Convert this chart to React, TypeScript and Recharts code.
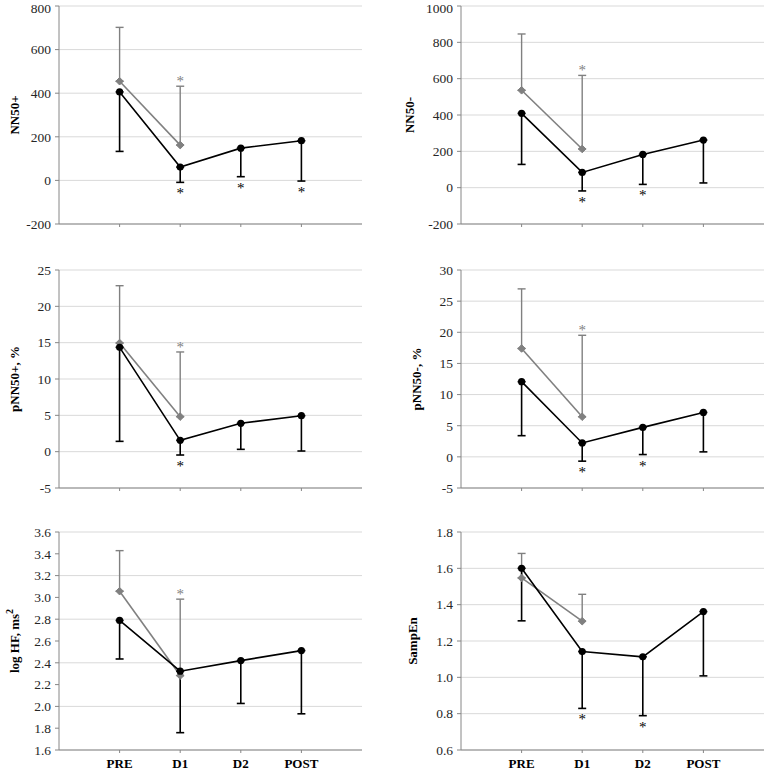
import { ComposedChart, Line, Scatter, XAxis, YAxis, CartesianGrid, ErrorBar, Label } from 'recharts';

const categories = ['PRE', 'D1', 'D2', 'POST'];

// NN50+
const nn50PlusBlack = [406, 61, 148, 182];
const nn50PlusBlackLow = [133, -9, 17, -3];
const nn50PlusGray = [455, 162];
const nn50PlusGrayHigh = [702, 432];
const nn50PlusBlackStar = [false, true, true, true];
const nn50PlusGrayStar = [false, true];
const nn50PlusTicks = [-200, 0, 200, 400, 600, 800];

// NN50-
const nn50MinusBlack = [409, 84, 183, 262];
const nn50MinusBlackLow = [128, -18, 18, 26];
const nn50MinusGray = [536, 213];
const nn50MinusGrayHigh = [846, 618];
const nn50MinusBlackStar = [false, true, true, false];
const nn50MinusGrayStar = [false, true];
const nn50MinusTicks = [-200, 0, 200, 400, 600, 800, 1000];

// pNN50+, %
const pnn50PlusBlack = [14.36, 1.56, 3.9, 4.95];
const pnn50PlusBlackLow = [1.42, -0.46, 0.32, 0.09];
const pnn50PlusGray = [14.95, 4.82];
const pnn50PlusGrayHigh = [22.84, 13.72];
const pnn50PlusBlackStar = [false, true, false, false];
const pnn50PlusGrayStar = [false, true];
const pnn50PlusTicks = [-5, 0, 5, 10, 15, 20, 25];

// pNN50-, %
const pnn50MinusBlack = [12.07, 2.23, 4.73, 7.13];
const pnn50MinusBlackLow = [3.4, -0.69, 0.37, 0.8];
const pnn50MinusGray = [17.4, 6.44];
const pnn50MinusGrayHigh = [26.97, 19.52];
const pnn50MinusBlackStar = [false, true, true, false];
const pnn50MinusGrayStar = [false, true];
const pnn50MinusTicks = [-5, 0, 5, 10, 15, 20, 25, 30];

// log HF, ms2
const logHfBlack = [2.789, 2.323, 2.42, 2.512];
const logHfBlackLow = [2.435, 1.759, 2.027, 1.932];
const logHfGray = [3.057, 2.283];
const logHfGrayHigh = [3.429, 2.984];
const logHfBlackStar = [false, false, false, false];
const logHfGrayStar = [false, true];
const logHfTicks = [1.6, 1.8, 2.0, 2.2, 2.4, 2.6, 2.8, 3.0, 3.2, 3.4, 3.6];

// SampEn
const sampEnBlack = [1.6, 1.142, 1.113, 1.362];
const sampEnBlackLow = [1.311, 0.829, 0.789, 1.008];
const sampEnGray = [1.547, 1.309];
const sampEnGrayHigh = [1.682, 1.457];
const sampEnBlackStar = [false, true, true, false];
const sampEnGrayStar = [false, false];
const sampEnTicks = [0.6, 0.8, 1.0, 1.2, 1.4, 1.6, 1.8];

const FONT = '"Liberation Serif", "Times New Roman", serif';
const AXIS = '#868686';
const GRID = '#d9d9d9';
const GRAY = '#808080';

function buildRows(black: number[], low: number[]) {
  return black.map((v, i) => ({ x: i + 1, y: v, err: [v - low[i], 0] }));
}
function buildGrayRows(gray: number[], high: number[]) {
  return gray.map((v, i) => ({ x: i + 1, y: v, err: [0, high[i] - v] }));
}
function buildStars(ends: number[], flags: boolean[]) {
  return ends.map((v, i) => ({ x: i + 1, y: v })).filter((_, i) => flags[i]);
}

const GrayDiamond = (props: any) => {
  const { cx, cy } = props;
  if (cx == null || cy == null) return null;
  const s = 3.8;
  return (
    <polygon
      points={`${cx},${cy - s} ${cx + s},${cy} ${cx},${cy + s} ${cx - s},${cy}`}
      fill={GRAY}
      stroke={GRAY}
    />
  );
};

const BlackDot = (props: any) => {
  const { cx, cy } = props;
  if (cx == null || cy == null) return null;
  return <circle cx={cx} cy={cy} r={3.6} fill="#000" />;
};

const starShape = (below: boolean, color: string) => (props: any) => {
  const { cx, cy } = props;
  return (
    <text
      x={cx}
      y={below ? cy + 16 : cy}
      textAnchor="middle"
      fontFamily={FONT}
      fontSize={15}
      fill={color}
      opacity={0.99}
      style={{ fontFamily: FONT }}
    >
      *
    </text>
  );
};

interface PanelProps {
  title: React.ReactNode;
  black: number[];
  low: number[];
  gray: number[];
  high: number[];
  blackStar: boolean[];
  grayStar: boolean[];
  ticks: number[];
  decimals: number;
  left: number;
  top: number;
  width: number;
  height: number;
  plotLeft: number;
  plotRight: number;
  plotTop: number;
  plotBottom: number;
  labelX: number;
  showX: boolean;
}

function Panel(p: PanelProps) {
  const rows = buildRows(p.black, p.low);
  const grayRows = buildGrayRows(p.gray, p.high);
  const blackStars = buildStars(p.low, p.blackStar);
  const grayStars = buildStars(p.high, p.grayStar);
  const domain: [number, number] = [p.ticks[0], p.ticks[p.ticks.length - 1]];
  return (
    <div style={{ position: 'absolute', left: p.left, top: p.top, fontFamily: FONT }}>
      <ComposedChart
        width={p.width}
        height={p.height}
        data={rows}
        style={{ fontFamily: FONT }}
        margin={{ top: p.plotTop - p.top, right: p.left + p.width - p.plotRight, left: 0, bottom: 0 }}
      >
        <CartesianGrid horizontal vertical={false} stroke={GRID} />
        <XAxis
          dataKey="x"
          type="number"
          domain={[0, 5]}
          ticks={[1, 2, 3, 4]}
          tickFormatter={(v: number) => (p.showX ? categories[v - 1] : '')}
          height={p.top + p.height - p.plotBottom}
          stroke={AXIS}
          tickSize={3}
          tickMargin={6}
          tick={{ fill: '#000', fontWeight: 'bold', fontSize: 13, fontFamily: FONT }}
        />
        <YAxis
          type="number"
          domain={domain}
          ticks={p.ticks}
          width={p.plotLeft - p.left}
          stroke={AXIS}
          tickSize={4}
          tickMargin={4}
          allowDataOverflow
          tickFormatter={(v: number) => v.toFixed(p.decimals)}
          tick={{ fill: '#262626', fontSize: 13.5, fontFamily: FONT }}
        >
          <Label
            content={(lp: any) => {
              const vb = lp.viewBox || {};
              const cy = vb.y + vb.height / 2;
              return (
                <text
                  x={p.labelX}
                  y={cy}
                  transform={`rotate(-90, ${p.labelX}, ${cy})`}
                  textAnchor="middle"
                  dominantBaseline="central"
                  fontFamily={FONT}
                  fontWeight="bold"
                  fontSize={13}
                  fill="#000"
                >
                  {p.title}
                </text>
              );
            }}
          />
        </YAxis>
        <Line
          data={grayRows}
          dataKey="y"
          stroke={GRAY}
          strokeWidth={1.6}
          dot={<GrayDiamond />}
          activeDot={false}
          isAnimationActive={false}
        >
          <ErrorBar dataKey="err" direction="y" width={4} stroke={GRAY} strokeWidth={1.4} />
        </Line>
        <Line
          dataKey="y"
          stroke="#000"
          strokeWidth={1.6}
          dot={<BlackDot />}
          activeDot={false}
          isAnimationActive={false}
        >
          <ErrorBar dataKey="err" direction="y" width={4} stroke="#000" strokeWidth={1.6} />
        </Line>
        {blackStars.length > 0 && (
          <Scatter data={blackStars} dataKey="y" shape={starShape(true, '#000')} isAnimationActive={false} />
        )}
        {grayStars.length > 0 && (
          <Scatter data={grayStars} dataKey="y" shape={starShape(false, GRAY)} isAnimationActive={false} />
        )}
      </ComposedChart>
    </div>
  );
}

const leftCol = { left: 0, width: 383, plotLeft: 59, plotRight: 362 };
const rightCol = { left: 384, width: 383, plotLeft: 461, plotRight: 764 };
const row1 = { top: 0, height: 250, plotTop: 6, plotBottom: 224, showX: false };
const row2 = { top: 250, height: 250, plotTop: 270, plotBottom: 488, showX: false };
const row3 = { top: 500, height: 272, plotTop: 532, plotBottom: 750, showX: true };

export default function App() {
  return (
    <div style={{ position: 'absolute', left: 0, top: 0, width: 767, height: 772, background: '#fff', fontFamily: FONT }}>
      <Panel
        title="NN50+"
        black={nn50PlusBlack}
        low={nn50PlusBlackLow}
        gray={nn50PlusGray}
        high={nn50PlusGrayHigh}
        blackStar={nn50PlusBlackStar}
        grayStar={nn50PlusGrayStar}
        ticks={nn50PlusTicks}
        decimals={0}
        labelX={14}
        {...leftCol}
        {...row1}
      />
      <Panel
        title="NN50-"
        black={nn50MinusBlack}
        low={nn50MinusBlackLow}
        gray={nn50MinusGray}
        high={nn50MinusGrayHigh}
        blackStar={nn50MinusBlackStar}
        grayStar={nn50MinusGrayStar}
        ticks={nn50MinusTicks}
        decimals={0}
        labelX={25}
        {...rightCol}
        {...row1}
      />
      <Panel
        title="pNN50+, %"
        black={pnn50PlusBlack}
        low={pnn50PlusBlackLow}
        gray={pnn50PlusGray}
        high={pnn50PlusGrayHigh}
        blackStar={pnn50PlusBlackStar}
        grayStar={pnn50PlusGrayStar}
        ticks={pnn50PlusTicks}
        decimals={0}
        labelX={14}
        {...leftCol}
        {...row2}
      />
      <Panel
        title="pNN50-, %"
        black={pnn50MinusBlack}
        low={pnn50MinusBlackLow}
        gray={pnn50MinusGray}
        high={pnn50MinusGrayHigh}
        blackStar={pnn50MinusBlackStar}
        grayStar={pnn50MinusGrayStar}
        ticks={pnn50MinusTicks}
        decimals={0}
        labelX={32}
        {...rightCol}
        {...row2}
      />
      <Panel
        title={
          <>
            log HF, ms
            <tspan dy={-5} fontSize={10}>2</tspan>
          </>
        }
        black={logHfBlack}
        low={logHfBlackLow}
        gray={logHfGray}
        high={logHfGrayHigh}
        blackStar={logHfBlackStar}
        grayStar={logHfGrayStar}
        ticks={logHfTicks}
        decimals={1}
        labelX={14}
        {...leftCol}
        {...row3}
      />
      <Panel
        title="SampEn"
        black={sampEnBlack}
        low={sampEnBlackLow}
        gray={sampEnGray}
        high={sampEnGrayHigh}
        blackStar={sampEnBlackStar}
        grayStar={sampEnGrayStar}
        ticks={sampEnTicks}
        decimals={1}
        labelX={28}
        {...rightCol}
        {...row3}
      />
    </div>
  );
}
